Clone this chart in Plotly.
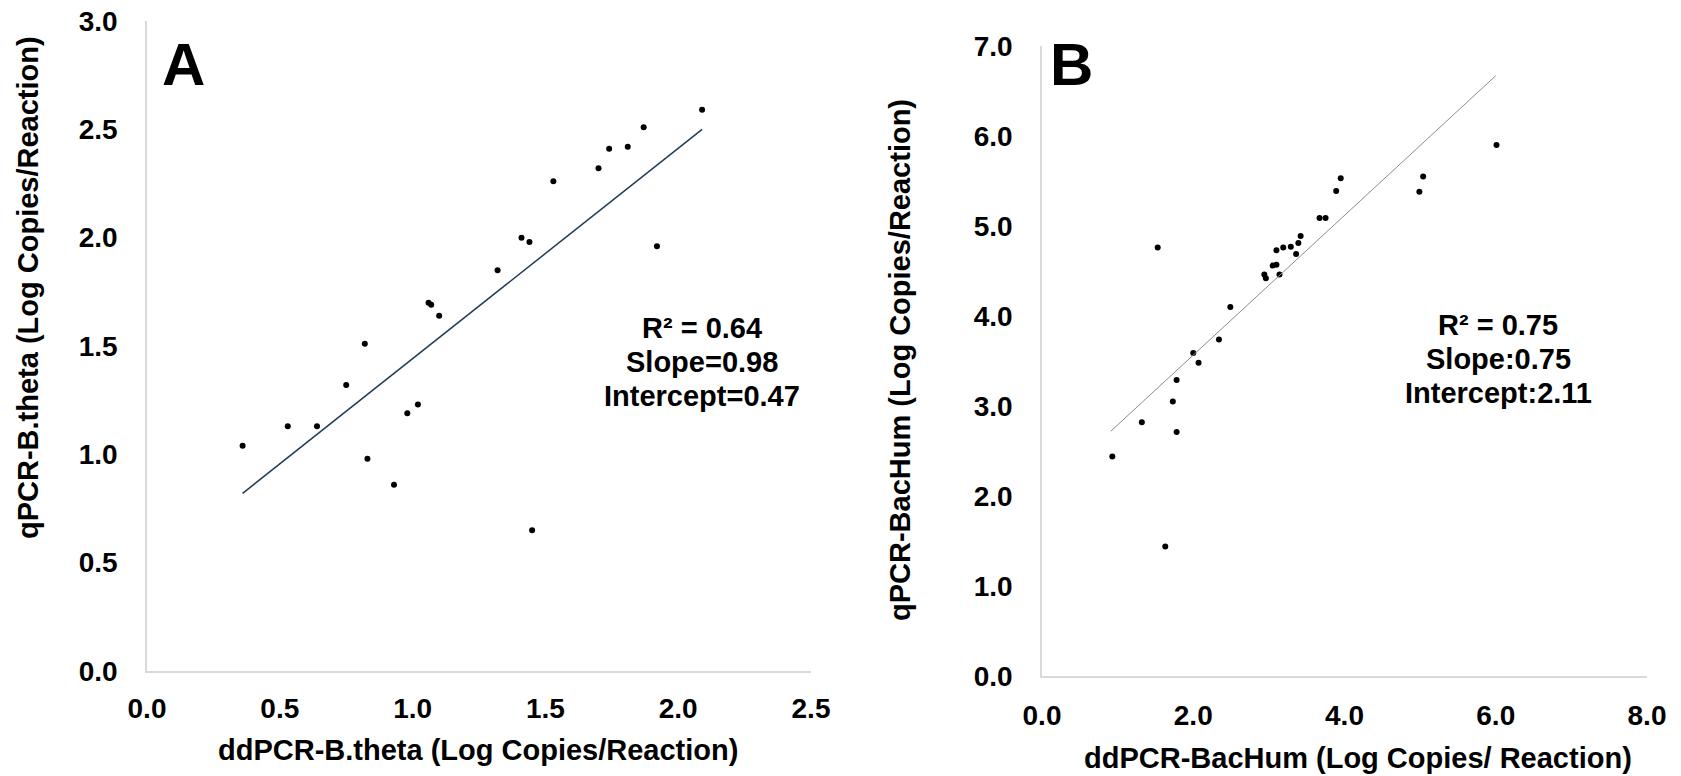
import plotly.graph_objects as go

# Panel A data (ddPCR vs qPCR, B.theta)
a_x = [0.36, 0.53, 0.64, 0.75, 0.82, 0.83, 0.93, 0.98, 1.02, 1.06, 1.07, 1.10,
       1.32, 1.41, 1.44, 1.45, 1.53, 1.70, 1.74, 1.81, 1.87, 1.92, 2.09]
a_y = [1.04, 1.13, 1.13, 1.32, 1.51, 0.98, 0.86, 1.19, 1.23, 1.70, 1.69, 1.64,
       1.85, 2.00, 1.98, 0.65, 2.26, 2.32, 2.41, 2.42, 2.51, 1.96, 2.59]
a_trend_x = [0.36, 2.09]
a_trend_y = [0.82, 2.50]
a_stats = ["R² = 0.64", "Slope=0.98", "Intercept=0.47"]

# Panel B data (ddPCR vs qPCR, BacHum)
b_x = [0.93, 1.32, 1.53, 1.63, 1.73, 1.78, 1.78, 2.00, 2.07, 2.34, 2.49,
       2.94, 2.96, 3.05, 3.10, 3.14, 3.10, 3.19, 3.29, 3.36, 3.39, 3.42,
       3.67, 3.75, 3.89, 3.95, 4.99, 5.04, 6.01]
b_y = [2.44, 2.82, 4.76, 1.44, 3.05, 3.29, 2.71, 3.59, 3.48, 3.74, 4.10,
       4.46, 4.42, 4.56, 4.57, 4.46, 4.73, 4.76, 4.77, 4.69, 4.81, 4.89,
       5.09, 5.09, 5.39, 5.53, 5.38, 5.55, 5.90]
b_trend_x = [0.91, 6.00]
b_trend_y = [2.72, 6.67]
b_stats = ["R² = 0.75", "Slope:0.75", "Intercept:2.11"]

FONT = "Liberation Sans, Arial, sans-serif"
W, H = 1681, 776

fig = go.Figure()
fig.add_trace(go.Scatter(x=a_x, y=a_y, mode="markers", xaxis="x", yaxis="y",
                         marker=dict(color="black", size=6), showlegend=False))
fig.add_trace(go.Scatter(x=a_trend_x, y=a_trend_y, mode="lines", xaxis="x", yaxis="y",
                         line=dict(color="#1F3B57", width=1.5), showlegend=False))
fig.add_trace(go.Scatter(x=b_x, y=b_y, mode="markers", xaxis="x2", yaxis="y2",
                         marker=dict(color="black", size=6), showlegend=False))
fig.add_trace(go.Scatter(x=b_trend_x, y=b_trend_y, mode="lines", xaxis="x2", yaxis="y2",
                         line=dict(color="#8C8C8C", width=1), showlegend=False))

tickfont = dict(family=FONT, size=28, color="black", weight="bold")
axcommon = dict(showgrid=False, zeroline=False, showline=True, linecolor="#D9D9D9",
                linewidth=1.5, ticks="", tickfont=tickfont, tickformat=".1f",
                automargin=False)

fig.update_layout(
    width=W, height=H, margin=dict(l=0, r=0, t=0, b=0, pad=0),
    paper_bgcolor="white", plot_bgcolor="white",
    xaxis=dict(domain=[147/W, 811/W], range=[0, 2.5], dtick=0.5, tick0=0,
               anchor="y", ticklabelstandoff=12, **axcommon),
    yaxis=dict(domain=[1-671/H, 1-21/H], range=[0, 3.0], dtick=0.5, tick0=0,
               anchor="x", ticklabelstandoff=22, **axcommon),
    xaxis2=dict(domain=[1042/W, 1647/W], range=[0, 8], dtick=2, tick0=0,
                anchor="y2", ticklabelstandoff=14, **axcommon),
    yaxis2=dict(domain=[1-676/H, 1-46/H], range=[0, 7], dtick=1, tick0=0,
                anchor="x2", ticklabelstandoff=22, **axcommon),
)

titlefont = dict(family=FONT, size=29, color="black", weight="bold")
anns = [
    dict(text="ddPCR-B.theta (Log Copies/Reaction)", x=478/W, y=1-750/H),
    dict(text="qPCR-B.theta (Log Copies/Reaction)", x=28/W, y=1-288/H, textangle=-90),
    dict(text="ddPCR-BacHum (Log Copies/ Reaction)", x=1358/W, y=1-758/H),
    dict(text="qPCR-BacHum (Log Copies/Reaction)", x=900/W, y=1-360/H, textangle=-90),
]
for a in anns:
    fig.add_annotation(xref="paper", yref="paper", showarrow=False,
                       xanchor="center", yanchor="middle", font=titlefont, **a)

panelfont = dict(family=FONT, size=60, color="black", weight="bold")
fig.add_annotation(xref="paper", yref="paper", x=183/W, y=1-64/H, text="A",
                   showarrow=False, xanchor="center", yanchor="middle", font=panelfont)
fig.add_annotation(xref="paper", yref="paper", x=1071/W, y=1-64/H, text="B",
                   showarrow=False, xanchor="center", yanchor="middle", font=panelfont)

statfont = dict(family=FONT, size=29, color="black", weight="bold")
for i, s in enumerate(a_stats):
    fig.add_annotation(xref="paper", yref="paper", x=702/W, y=1-(328+34*i)/H, text=s,
                       showarrow=False, xanchor="center", yanchor="middle", font=statfont)
for i, s in enumerate(b_stats):
    fig.add_annotation(xref="paper", yref="paper", x=1498/W, y=1-(325+34*i)/H, text=s,
                       showarrow=False, xanchor="center", yanchor="middle", font=statfont)

fig.write_html("out.html")
